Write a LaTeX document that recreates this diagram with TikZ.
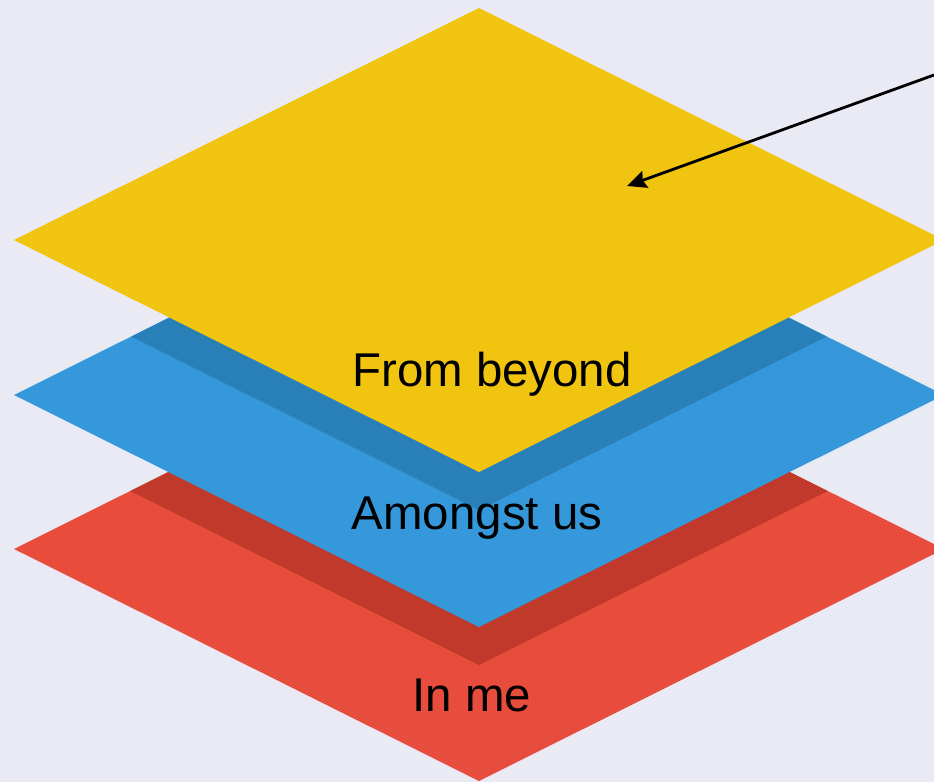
\documentclass[tikz,border=0pt]{standalone}
\usepackage{fontspec}
\setmainfont{Liberation Sans}
\usetikzlibrary{arrows.meta}

\definecolor{bgcol}{HTML}{EAEAF4}
\definecolor{topyellow}{HTML}{F1C40F}
\definecolor{midblue}{HTML}{3498DB}
\definecolor{midblueshade}{HTML}{2980B9}
\definecolor{lowred}{HTML}{E74C3C}
\definecolor{lowredshade}{HTML}{C0392B}

% one flat layer, centred at height #1
\newcommand{\layerpath}[1]{(479,#1-232) -- (944,#1) -- (479,#1+232) -- (14,#1) -- cycle}

\begin{document}
\begin{tikzpicture}[x=0.02cm, y=-0.02cm, >={Stealth[length=11pt, width=10pt, inset=1.5pt]},
    layerlabel/.style={anchor=base, font=\fontsize{27}{32}\selectfont, text=black}]
    % Canvas
    \fill[bgcol] (0,0) rectangle (934,782);
    \useasboundingbox (0,0) rectangle (934,782);
    \clip (0,0) rectangle (934,782);

    % Layers
    \fill[lowred] \layerpath{549};
    \begin{scope}
        \clip \layerpath{549};
        \fill[lowredshade] \layerpath{433};
    \end{scope}
    \fill[midblue] \layerpath{395};
    \begin{scope}
        \clip \layerpath{395};
        \fill[midblueshade] \layerpath{278};
    \end{scope}
    \fill[topyellow] \layerpath{240};

    % Labels
    \node[layerlabel] (beyond) at (492,386) {From beyond};
    \node[layerlabel] (amongst) at (477,529) {Amongst us};
    \node[layerlabel] (inme) at (472,711) {In me};

    % Pointer
    \coordinate (pointer) at (934,75);
    \coordinate (target) at (627,186);
    \draw[->, line width=1.6pt] (pointer) -- (target);
\end{tikzpicture}
\end{document}
